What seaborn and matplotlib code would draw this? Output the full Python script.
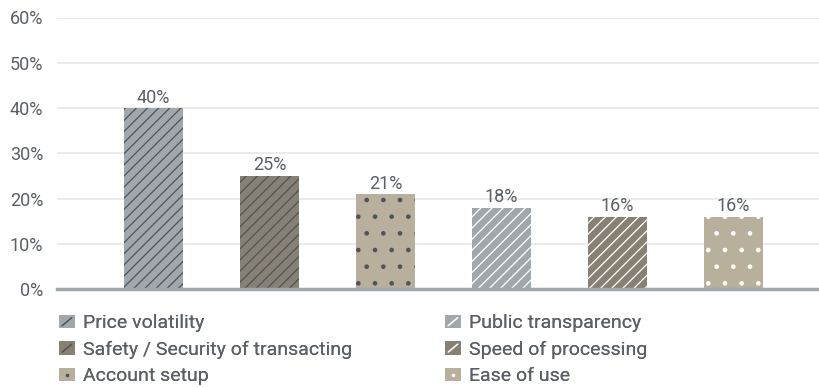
import matplotlib
matplotlib.use("Agg")
import matplotlib.pyplot as plt
import matplotlib.patches as mpatches
from matplotlib.lines import Line2D
from matplotlib.legend_handler import HandlerBase
import seaborn as sns
import pandas as pd

# Survey factors and the share of respondents naming each one (%)
factors = [
    "Price volatility",
    "Safety / Security of transacting",
    "Account setup",
    "Public transparency",
    "Speed of processing",
    "Ease of use",
]
shares = [40, 25, 21, 18, 16, 16]
y_ticks = [0, 10, 20, 30, 40, 50, 60]
y_tick_labels = ["0%", "10%", "20%", "30%", "40%", "50%", "60%"]

# Fill, hatch pattern and hatch colour per factor
fills = ["#a1a8ac", "#878174", "#b8b09c", "#a1a8ac", "#878174", "#b8b09c"]
hatches = ["///", "///", ".", "///", "///", "."]
hatch_colors = ["#4f545a", "#4f545a", "#4f545a", "#ffffff", "#ffffff", "#ffffff"]

TEXT = "#5b6066"

sns.set_theme(style="white")
plt.rcParams["font.family"] = ["Roboto", "DejaVu Sans"]
plt.rcParams["hatch.linewidth"] = 0.9

df = pd.DataFrame({"factor": factors, "share": shares})

fig = plt.figure(figsize=(8.2, 3.87), dpi=100)
ax = fig.add_axes([57 / 820, 1 - 289 / 387, 1 - 57 / 820, (289 - 17.5) / 387])

sns.barplot(
    data=df, x="factor", y="share", hue="factor", order=factors,
    hue_order=factors, palette=fills, width=0.51, dodge=False,
    legend=False, ax=ax, saturation=1,
)

bars = [p for p in ax.patches if isinstance(p, mpatches.Rectangle)]
for bar, h, hc in zip(bars, hatches, hatch_colors):
    bar.set_hatch(h)
    bar.set_edgecolor(hc)
    bar.set_linewidth(0)

for cont in ax.containers:
    ax.bar_label(cont, fmt="{:.0f}%", padding=1, color=TEXT, fontsize=13)

ax.set_ylim(0, 60)
ax.set_xlim(-0.832, 5.746)
ax.set_yticks(y_ticks)
ax.set_yticklabels(y_tick_labels, color=TEXT, fontsize=13)
ax.set_xticks([])
ax.set_xlabel("")
ax.set_ylabel("")
ax.tick_params(axis="y", length=0, pad=10)
ax.grid(axis="y", color="#ebebeb", linewidth=1.5)
ax.set_axisbelow(True)
for side in ["top", "right", "left"]:
    ax.spines[side].set_visible(False)
ax.spines["bottom"].set_color("#a1a8ac")
ax.spines["bottom"].set_linewidth(2.5)
ax.spines["bottom"].set_zorder(5)


class SwatchHandler(HandlerBase):
    """Legend key: a filled square carrying one stroke or one dot of its pattern."""

    def create_artists(self, legend, orig_handle, xdescent, ydescent,
                       width, height, fontsize, trans):
        fill, pattern, mark = orig_handle
        rect = mpatches.Rectangle((-xdescent, -ydescent), width, height,
                                  facecolor=fill, edgecolor="none",
                                  transform=trans)
        artists = [rect]
        if pattern.startswith("/"):
            m = 0.2
            line = Line2D([-xdescent + width * m, -xdescent + width * (1 - m)],
                          [-ydescent + height * m, -ydescent + height * (1 - m)],
                          color=mark, linewidth=1.1, transform=trans)
            artists.append(line)
        else:
            dot = Line2D([-xdescent + width / 2], [-ydescent + height / 2],
                         marker="o", markersize=2.6, color=mark,
                         markeredgewidth=0, linestyle="none", transform=trans)
            artists.append(dot)
        return artists


columns = [([0, 1, 2], 59 / 820), ([3, 4, 5], 445 / 820)]
for idx, x0 in columns:
    keys = [(fills[i], hatches[i], hatch_colors[i]) for i in idx]
    leg = fig.legend(
        handles=keys,
        labels=[factors[i] for i in idx],
        handler_map={tuple: SwatchHandler()},
        loc="upper left", bbox_to_anchor=(x0, 1 - 314.5 / 387),
        frameon=False, fontsize=14, labelcolor=TEXT,
        handlelength=0.82, handleheight=0.68, handletextpad=0.42,
        labelspacing=0.43, borderpad=0, borderaxespad=0,
    )
    fig.add_artist(leg)

fig.savefig("out.png", dpi=100)
